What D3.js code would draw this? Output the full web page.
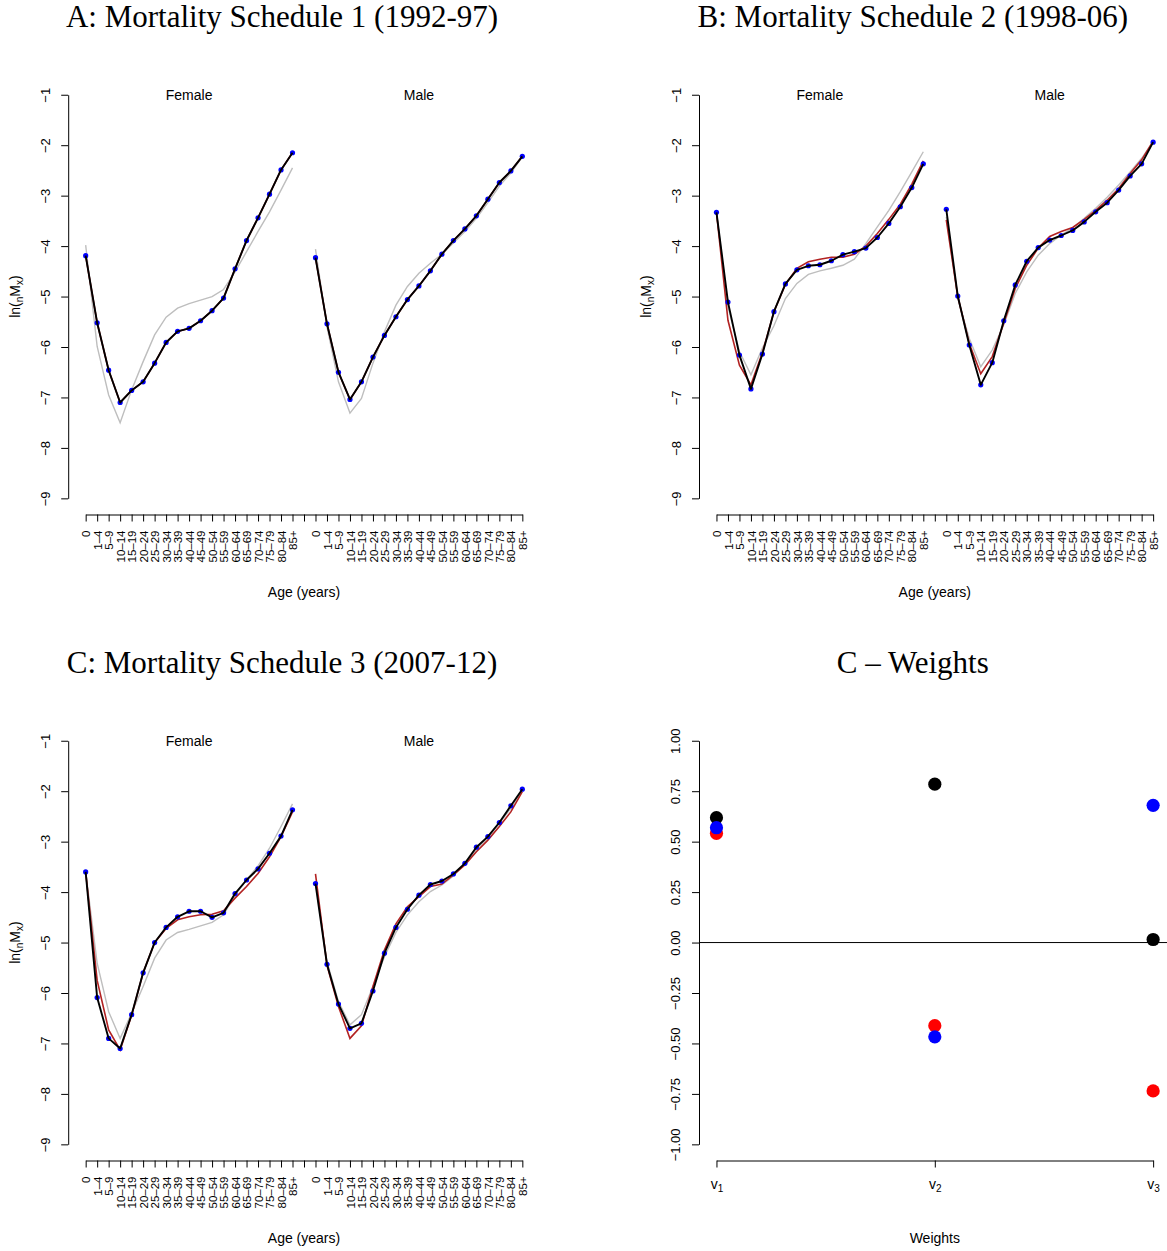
<!DOCTYPE html>
<html>
<head>
<meta charset="utf-8">
<script src="https://cdn.jsdelivr.net/npm/d3@7"></script>
<style>
  html, body { margin: 0; padding: 0; background: #fff; }
  svg text { font-family: "Liberation Sans", Arial, Helvetica, sans-serif; fill: #000; }
  svg text.title { font-family: "Liberation Serif", "Times New Roman", serif; }
</style>
</head>
<body>
<svg id="chart" width="1167" height="1251"></svg>
<script>
// Age groups on the x axis (one block per sex, with an empty slot between them)
const ageGroups = ["0", "1–4", "5–9", "10–14", "15–19", "20–24", "25–29", "30–34", "35–39",
  "40–44", "45–49", "50–54", "55–59", "60–64", "65–69", "70–74", "75–79", "80–84", "85+"];
const sexes = ["Female", "Male"];
const logRateTicks = [-9, -8, -7, -6, -5, -4, -3, -2, -1];

// Schedule 1 (1992-97): observed, fitted and standard ln(nMx)
const s1FemaleObs = [-4.19, -5.52, -6.46, -7.10, -6.86, -6.69, -6.32, -5.91, -5.69, -5.63, -5.48, -5.28, -5.03, -4.45, -3.89, -3.44, -2.97, -2.49, -2.15];
const s1FemaleFit = [-4.19, -5.52, -6.46, -7.10, -6.86, -6.69, -6.32, -5.91, -5.69, -5.63, -5.48, -5.28, -5.03, -4.45, -3.89, -3.44, -2.97, -2.49, -2.15];
const s1FemaleStd = [-3.98, -5.99, -6.95, -7.50, -6.85, -6.29, -5.76, -5.41, -5.23, -5.14, -5.07, -5.00, -4.86, -4.51, -4.11, -3.71, -3.32, -2.89, -2.45];
const s1MaleObs = [-4.23, -5.54, -6.50, -7.04, -6.69, -6.20, -5.77, -5.40, -5.06, -4.79, -4.49, -4.16, -3.89, -3.66, -3.40, -3.07, -2.74, -2.51, -2.22];
const s1MaleFit = [-4.23, -5.54, -6.50, -7.04, -6.69, -6.20, -5.77, -5.40, -5.06, -4.79, -4.49, -4.16, -3.89, -3.66, -3.40, -3.07, -2.74, -2.51, -2.22];
const s1MaleStd = [-4.06, -5.60, -6.69, -7.31, -7.02, -6.32, -5.70, -5.17, -4.80, -4.54, -4.34, -4.16, -3.94, -3.71, -3.45, -3.14, -2.81, -2.55, -2.23];

// Schedule 2 (1998-06)
const s2FemaleObs = [-3.33, -5.11, -6.16, -6.83, -6.14, -5.30, -4.75, -4.47, -4.39, -4.37, -4.29, -4.17, -4.11, -4.04, -3.83, -3.55, -3.22, -2.84, -2.37];
const s2FemaleFit = [-3.33, -5.47, -6.36, -6.75, -6.11, -5.30, -4.76, -4.44, -4.31, -4.26, -4.22, -4.22, -4.16, -4.00, -3.75, -3.47, -3.17, -2.77, -2.31];
const s2FemaleStd = [-3.33, -5.20, -6.09, -6.55, -6.02, -5.58, -5.04, -4.74, -4.56, -4.49, -4.44, -4.38, -4.26, -3.95, -3.62, -3.29, -2.92, -2.53, -2.13];
const s2MaleObs = [-3.27, -4.99, -5.96, -6.75, -6.31, -5.48, -4.77, -4.30, -4.03, -3.88, -3.79, -3.69, -3.52, -3.32, -3.14, -2.89, -2.61, -2.37, -1.94];
const s2MaleFit = [-3.48, -5.00, -5.93, -6.53, -6.19, -5.53, -4.84, -4.38, -4.04, -3.81, -3.71, -3.63, -3.47, -3.29, -3.09, -2.86, -2.56, -2.29, -1.92];
const s2MaleStd = [-3.42, -5.04, -5.83, -6.39, -6.06, -5.56, -4.94, -4.51, -4.18, -3.95, -3.78, -3.64, -3.45, -3.25, -3.03, -2.79, -2.53, -2.26, -1.93];

// Schedule 3 (2007-12)
const s3FemaleObs = [-3.60, -6.09, -6.90, -7.10, -6.43, -5.60, -5.00, -4.70, -4.49, -4.38, -4.38, -4.50, -4.41, -4.03, -3.76, -3.54, -3.23, -2.89, -2.37];
const s3FemaleFit = [-3.60, -5.75, -6.73, -7.13, -6.44, -5.60, -5.00, -4.72, -4.55, -4.49, -4.45, -4.44, -4.37, -4.12, -3.89, -3.63, -3.30, -2.90, -2.41];
const s3FemaleStd = [-3.60, -5.41, -6.37, -6.90, -6.40, -5.87, -5.31, -4.95, -4.80, -4.74, -4.67, -4.60, -4.45, -4.06, -3.76, -3.48, -3.13, -2.70, -2.25];
const s3MaleObs = [-3.83, -5.43, -6.22, -6.70, -6.60, -5.96, -5.21, -4.70, -4.34, -4.06, -3.85, -3.78, -3.64, -3.43, -3.11, -2.90, -2.62, -2.29, -1.96];
const s3MaleFit = [-3.64, -5.45, -6.27, -6.90, -6.65, -5.87, -5.15, -4.63, -4.29, -4.09, -3.89, -3.84, -3.66, -3.46, -3.20, -2.97, -2.70, -2.41, -2.01];
const s3MaleStd = [-3.79, -5.38, -6.17, -6.63, -6.43, -5.87, -5.28, -4.80, -4.45, -4.19, -3.99, -3.86, -3.68, -3.44, -3.15, -2.92, -2.64, -2.34, -1.98];

// Weights of the three components, one series per schedule colour
const weightIndex = [1, 2, 3];
const weightTicks = [-1, -0.75, -0.5, -0.25, 0, 0.25, 0.5, 0.75, 1];
const weightsBlack = [0.619, 0.785, 0.015];
const weightsRed = [0.541, -0.412, -0.735];
const weightsBlue = [0.569, -0.467, 0.680];

// ---------- layout ----------
const svg = d3.select("#chart");
svg.append("rect").attr("width", 1167).attr("height", 1251).attr("fill", "#fff");

const plotLeft = 68.2, plotTop = 78.6, plotW = 471.6, plotH = 435.9;
const figDx = 630.8, figDy = 646;
const tickLen = 7;
const fontAxis = 13;

const COL = { obs: "#000000", fit: "#b22222", std: "#bebebe", pt: "#0000ff" };

function styleAxis(g) {
  g.selectAll("path.domain").attr("stroke", "#000").attr("stroke-width", 1);
  g.selectAll(".tick line").attr("stroke", "#000").attr("stroke-width", 1);
  g.selectAll(".tick text").attr("font-size", fontAxis).attr("fill", "#000")
    .attr("font-family", "\"Liberation Sans\", Arial, sans-serif");
}

// rotated tick labels on a vertical axis (reading bottom to top)
function rotateLeftLabels(g, offset) {
  g.selectAll(".tick text")
    .attr("transform", "rotate(-90)")
    .attr("x", 0).attr("y", -offset).attr("dy", "0.36em")
    .attr("text-anchor", "middle");
}

function mortalityPanel(ox, oy, title, series) {
  const g = svg.append("g").attr("transform", `translate(${ox},${oy})`);
  const nAge = ageGroups.length;
  const nPos = nAge * 2 + 1; // two blocks with an empty slot between
  const last = nPos - 1;
  const padX = last * 0.04, padY = 8 * 0.04;

  const x = d3.scaleLinear().domain([-padX, last + padX]).range([plotLeft, plotLeft + plotW]);
  const y = d3.scaleLinear().domain([-9 - padY, -1 + padY]).range([plotTop + plotH, plotTop]);

  // title
  g.append("text").attr("class", "title")
    .attr("x", 282).attr("y", 27).attr("text-anchor", "middle")
    .attr("font-size", 31).text(title);

  // y axis
  const yAxisScale = d3.scaleLinear().domain([-9, -1]).range([y(-9), y(-1)]);
  const ya = g.append("g").attr("transform", `translate(${plotLeft},0)`)
    .call(d3.axisLeft(yAxisScale).tickValues(logRateTicks).tickSize(tickLen).tickSizeOuter(0)
      .tickFormat(d3.format("d")));
  styleAxis(ya);
  rotateLeftLabels(ya, 23);

  // x axis
  const labels = [...ageGroups, "", ...ageGroups];
  const xAxisScale = d3.scaleLinear().domain([0, last]).range([x(0), x(last)]);
  const xa = g.append("g").attr("transform", `translate(0,${plotTop + plotH})`)
    .call(d3.axisBottom(xAxisScale).tickValues(d3.range(nPos)).tickSize(tickLen).tickSizeOuter(0)
      .tickFormat(i => labels[i]));
  styleAxis(xa);
  xa.selectAll(".tick text")
    .attr("font-size", 11.5)
    .attr("transform", "rotate(-90)")
    .attr("x", -16).attr("y", 0).attr("dy", "0.36em")
    .attr("text-anchor", "end");

  // axis titles
  g.append("text").attr("x", (x(0) + x(last)) / 2).attr("y", 597)
    .attr("text-anchor", "middle").attr("font-size", 14).text("Age (years)");
  const yl = g.append("text").attr("transform", `translate(20,${(y(-1) + y(-9)) / 2}) rotate(-90)`)
    .attr("text-anchor", "middle").attr("font-size", 14);
  yl.append("tspan").text("ln(");
  yl.append("tspan").attr("font-size", 10).attr("dy", 3).text("n");
  yl.append("tspan").attr("dy", -3).text("M");
  yl.append("tspan").attr("font-size", 10).attr("dy", 3).text("x");
  yl.append("tspan").attr("dy", -3).text(")");

  const line = d3.line().x(d => x(d.p)).y(d => y(d.v));

  series.forEach((s, k) => {
    const start = k * (nAge + 1);
    const pts = arr => arr.map((v, i) => ({ p: start + i, v }));

    g.append("text").attr("x", x(start + (nAge - 1) / 2)).attr("y", 100)
      .attr("text-anchor", "middle").attr("font-size", 14).text(sexes[k]);

    g.append("path").datum(pts(s.std)).attr("d", line)
      .attr("fill", "none").attr("stroke", COL.std).attr("stroke-width", 1.4);
    g.append("path").datum(pts(s.fit)).attr("d", line)
      .attr("fill", "none").attr("stroke", COL.fit).attr("stroke-width", 1.6);
    g.selectAll(null).data(pts(s.obs)).enter().append("circle")
      .attr("cx", d => x(d.p)).attr("cy", d => y(d.v)).attr("r", 2.6).attr("fill", COL.pt);
    g.append("path").datum(pts(s.obs)).attr("d", line)
      .attr("fill", "none").attr("stroke", COL.obs).attr("stroke-width", 1.9)
      .attr("stroke-linejoin", "round");
  });
}

mortalityPanel(0, 0, "A: Mortality Schedule 1 (1992-97)", [
  { obs: s1FemaleObs, fit: s1FemaleFit, std: s1FemaleStd },
  { obs: s1MaleObs, fit: s1MaleFit, std: s1MaleStd }]);
mortalityPanel(figDx, 0, "B: Mortality Schedule 2 (1998-06)", [
  { obs: s2FemaleObs, fit: s2FemaleFit, std: s2FemaleStd },
  { obs: s2MaleObs, fit: s2MaleFit, std: s2MaleStd }]);
mortalityPanel(0, figDy, "C: Mortality Schedule 3 (2007-12)", [
  { obs: s3FemaleObs, fit: s3FemaleFit, std: s3FemaleStd },
  { obs: s3MaleObs, fit: s3MaleFit, std: s3MaleStd }]);

// ---------- weights panel ----------
(function weightsPanel(ox, oy) {
  const g = svg.append("g").attr("transform", `translate(${ox},${oy})`);
  const x = d3.scaleLinear().domain([1 - 0.08, 3 + 0.08]).range([plotLeft, plotLeft + plotW]);
  const y = d3.scaleLinear().domain([-1.08, 1.08]).range([plotTop + plotH, plotTop]);

  g.append("text").attr("class", "title")
    .attr("x", 282).attr("y", 27).attr("text-anchor", "middle")
    .attr("font-size", 31).text("C – Weights");

  const yAxisScale = d3.scaleLinear().domain([-1, 1]).range([y(-1), y(1)]);
  const ya = g.append("g").attr("transform", `translate(${plotLeft},0)`)
    .call(d3.axisLeft(yAxisScale).tickValues(weightTicks).tickSize(tickLen).tickSizeOuter(0)
      .tickFormat(d3.format(".2f")));
  styleAxis(ya);
  rotateLeftLabels(ya, 24);

  const xAxisScale = d3.scaleLinear().domain([1, 3]).range([x(1), x(3)]);
  const xa = g.append("g").attr("transform", `translate(0,${plotTop + plotH})`)
    .call(d3.axisBottom(xAxisScale).tickValues(weightIndex).tickSize(tickLen).tickSizeOuter(0)
      .tickFormat(""));
  styleAxis(xa);
  xa.selectAll(".tick").each(function (d) {
    const t = d3.select(this).append("text").attr("y", 28).attr("text-anchor", "middle")
      .attr("font-size", 14).attr("fill", "#000");
    t.append("tspan").text("v");
    t.append("tspan").attr("font-size", 10).attr("dy", 3).text(d);
  });

  g.append("text").attr("x", x(2)).attr("y", 597).attr("text-anchor", "middle")
    .attr("font-size", 14).text("Weights");

  // reference line at zero across the plot region
  g.append("line").attr("x1", plotLeft).attr("x2", plotLeft + plotW)
    .attr("y1", y(0)).attr("y2", y(0)).attr("stroke", "#000").attr("stroke-width", 1);

  const groups = [
    { vals: weightsBlack, col: "#000000" },
    { vals: weightsRed, col: "#ff0000" },
    { vals: weightsBlue, col: "#0000ff" }];
  groups.forEach(s => {
    g.selectAll(null).data(s.vals.map((v, i) => ({ i: weightIndex[i], v }))).enter()
      .append("circle").attr("cx", d => x(d.i)).attr("cy", d => y(d.v))
      .attr("r", 6.6).attr("fill", s.col);
  });
})(figDx, figDy);
</script>
</body>
</html>
